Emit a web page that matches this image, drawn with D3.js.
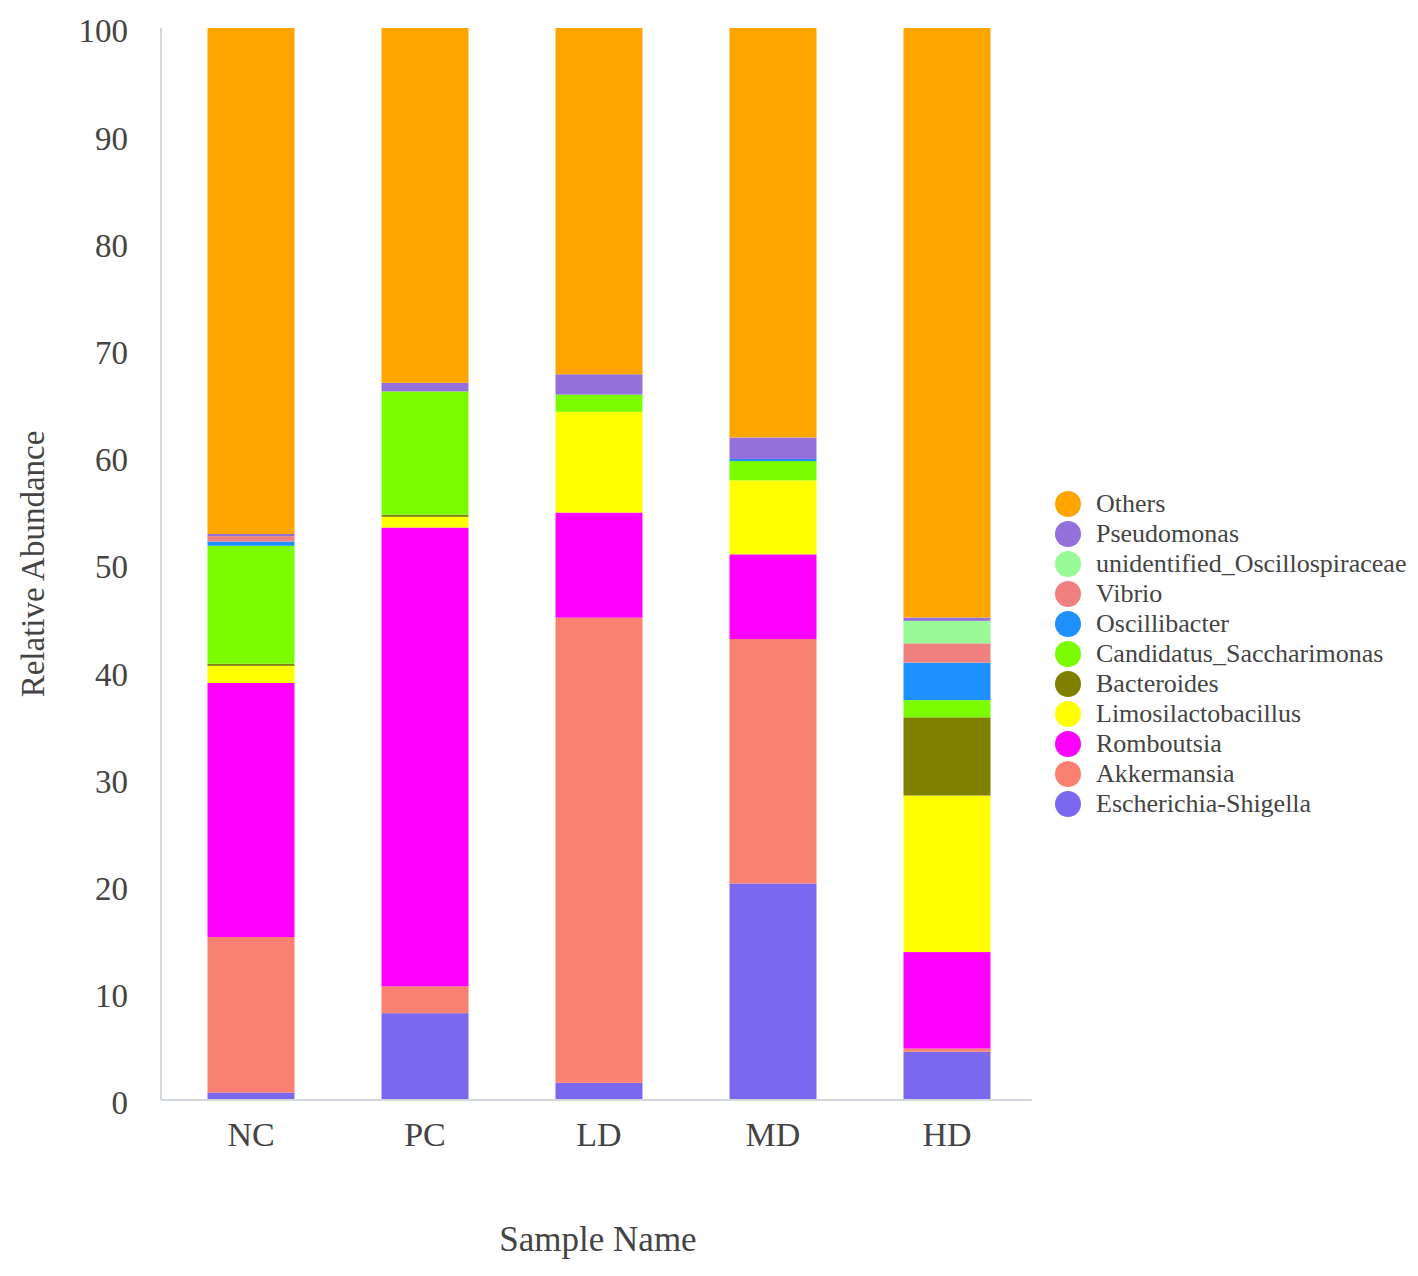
<!DOCTYPE html>
<html>
<head>
<meta charset="utf-8">
<script src="https://cdn.jsdelivr.net/npm/d3@7/dist/d3.min.js"></script>
<style>
  body { margin: 0; background: #fff; }
  text { font-family: "Liberation Serif", "Times New Roman", serif; fill: #444; }
</style>
</head>
<body>
<svg id="chart" width="1418" height="1276"></svg>
<script>
// samples on the x axis
const samples = ['NC', 'PC', 'LD', 'MD', 'HD'];

// genera, from the bottom of the stack to the top
const genera = [
    'Escherichia-Shigella', 'Akkermansia', 'Romboutsia', 'Limosilactobacillus',
    'Bacteroides', 'Candidatus_Saccharimonas', 'Oscillibacter', 'Vibrio',
    'unidentified_Oscillospiraceae', 'Pseudomonas', 'Others'
];

// relative abundance (%) per genus, in sample order NC, PC, LD, MD, HD
const escherichia   = [0.7, 8.1, 1.6, 20.2, 4.5];
const akkermansia   = [14.5, 2.5, 43.4, 22.8, 0.3];
const romboutsia    = [23.7, 42.8, 9.8, 7.9, 9.0];
const limosilacto   = [1.6, 1.0, 9.4, 6.9, 14.6];
const bacteroides   = [0.2, 0.2, 0, 0, 7.3];
const saccharimonas = [11.0, 11.5, 1.6, 1.8, 1.6];
const oscillibacter = [0.4, 0, 0, 0.2, 3.5];
const vibrio        = [0.5, 0, 0, 0, 1.8];
const oscillospir   = [0, 0, 0, 0, 2.1];
const pseudomonas   = [0.2, 0.8, 1.9, 2.0, 0.3];
const others        = [47.2, 33.1, 32.3, 38.2, 55.0];

const yTicks = [0, 10, 20, 30, 40, 50, 60, 70, 80, 90, 100];

const colors = {
    'Escherichia-Shigella': '#7B68EE',
    'Akkermansia': '#FA8072',
    'Romboutsia': '#FF00FF',
    'Limosilactobacillus': '#FFFF00',
    'Bacteroides': '#808000',
    'Candidatus_Saccharimonas': '#7CFC00',
    'Oscillibacter': '#1E90FF',
    'Vibrio': '#F08080',
    'unidentified_Oscillospiraceae': '#98FB98',
    'Pseudomonas': '#9370DB',
    'Others': '#FFA500'
};

// table for d3.stack
const series = [escherichia, akkermansia, romboutsia, limosilacto, bacteroides,
    saccharimonas, oscillibacter, vibrio, oscillospir, pseudomonas, others];
const table = samples.map((s, i) => {
    let row = { sample: s };
    genera.forEach((g, j) => { row[g] = series[j][i]; });
    return row;
});

const svg = d3.select('#chart');
const plotLeft = 161, plotRight = 1032, plotTop = 28, plotBottom = 1100;

const x = d3.scaleBand()
    .domain(samples)
    .range([164, 1034])
    .paddingInner(0.5)
    .paddingOuter(0.25);

const y = d3.scaleLinear()
    .domain([0, 100])
    .range([plotBottom, plotTop]);

const stacked = d3.stack().keys(genera)(table);

// bars
svg.append('g')
    .attr('class', 'bars')
    .selectAll('g')
    .data(stacked)
    .enter()
    .append('g')
    .attr('fill', d => colors[d.key])
    .selectAll('rect')
    .data(d => d)
    .enter()
    .append('rect')
    .attr('x', d => x(d.data.sample))
    .attr('y', d => y(d[1]))
    .attr('width', x.bandwidth())
    .attr('height', d => y(d[0]) - y(d[1]));

// axis lines
svg.append('line')
    .attr('x1', plotLeft).attr('x2', plotLeft)
    .attr('y1', plotTop).attr('y2', plotBottom)
    .attr('stroke', '#d3d8de').attr('stroke-width', 2);
svg.append('line')
    .attr('x1', plotLeft).attr('x2', plotRight)
    .attr('y1', plotBottom).attr('y2', plotBottom)
    .attr('stroke', '#d3d8de').attr('stroke-width', 2);

// y axis
const yAxis = svg.append('g')
    .attr('transform', `translate(${plotLeft},0)`)
    .call(d3.axisLeft(y).tickValues(yTicks).tickSize(0).tickPadding(33));
yAxis.select('.domain').remove();
yAxis.selectAll('text')
    .attr('font-size', 33)
    .attr('dy', '0.42em')
    .attr('font-family', '"Liberation Serif", serif')
    .attr('fill', '#444');

// x axis
const xAxis = svg.append('g')
    .attr('transform', `translate(0,${plotBottom})`)
    .call(d3.axisBottom(x).tickSize(0).tickPadding(22));
xAxis.select('.domain').remove();
xAxis.selectAll('text')
    .attr('font-size', 34)
    .attr('font-family', '"Liberation Serif", serif')
    .attr('fill', '#444');

// axis titles
svg.append('text')
    .attr('x', 598)
    .attr('y', 1251)
    .attr('text-anchor', 'middle')
    .attr('font-size', 35)
    .text('Sample Name');
svg.append('text')
    .attr('transform', 'translate(44,564) rotate(-90)')
    .attr('text-anchor', 'middle')
    .attr('font-size', 33)
    .text('Relative Abundance');

// legend, top of the stack first
const legend = svg.append('g')
    .attr('class', 'legend')
    .selectAll('g')
    .data(genera.slice().reverse())
    .enter()
    .append('g')
    .attr('transform', (d, i) => `translate(1068,${504 + i * 30})`);
legend.append('circle')
    .attr('r', 13)
    .attr('fill', d => colors[d]);
legend.append('text')
    .attr('x', 28)
    .attr('y', 8)
    .attr('font-size', 26)
    .text(d => d);
</script>
</body>
</html>
